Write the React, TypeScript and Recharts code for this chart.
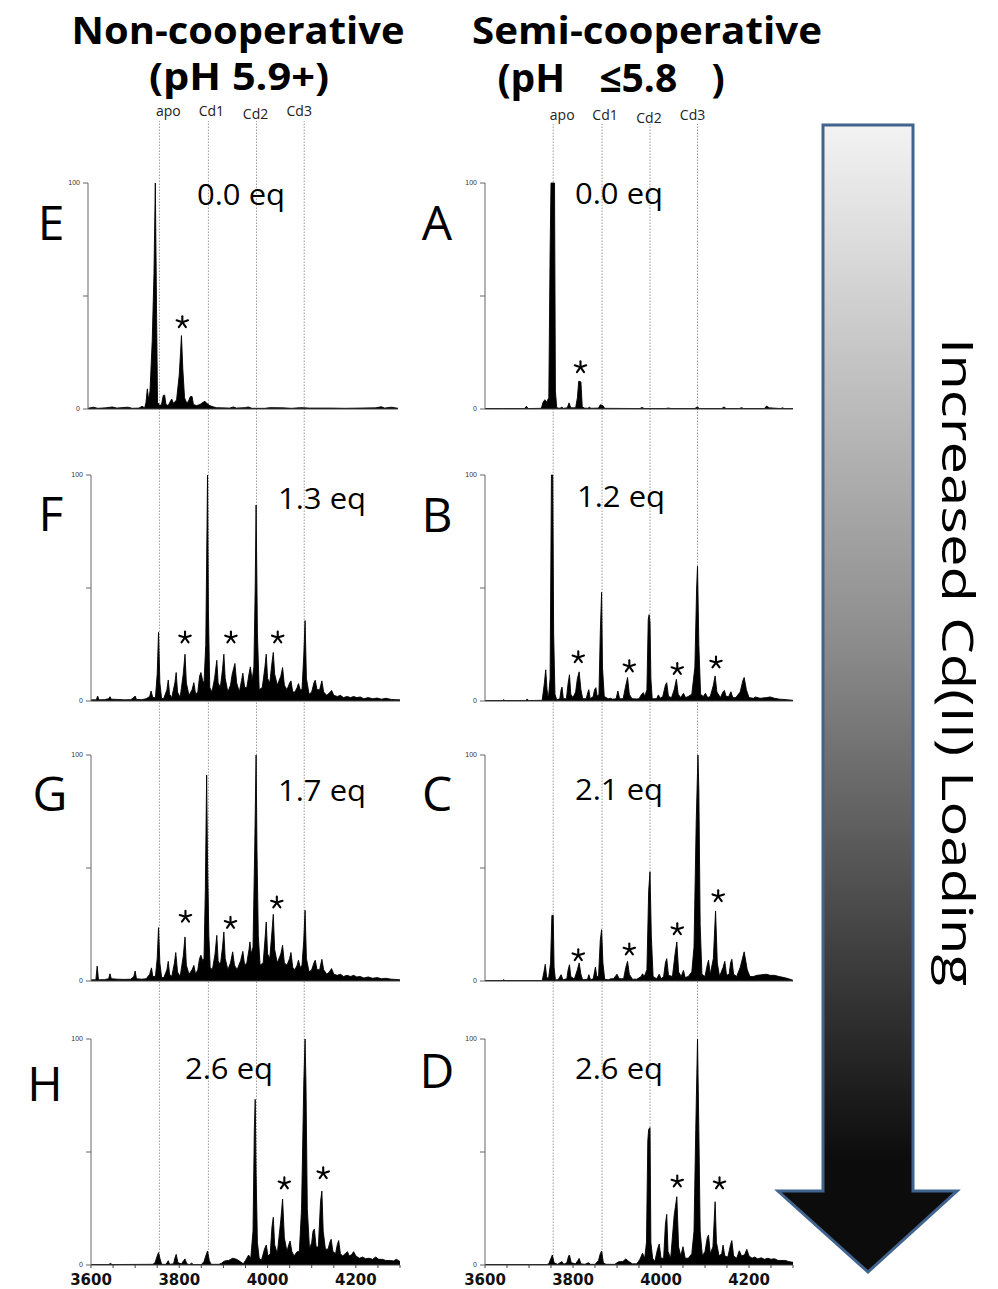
import React from 'react';
import { ComposedChart, Area, Line, XAxis, YAxis, Scatter, ReferenceLine } from 'recharts';

type Pt = [number, number];

// ---------- axes / reference data ----------
const MZ_DOMAIN: [number, number] = [3600, 4300];
const X_TICKS = [3600, 3650, 3700, 3750, 3800, 3850, 3900, 3950, 4000, 4050, 4100, 4150, 4200, 4250, 4300];
const BOTTOM_LABELS = [3600, 3800, 4000, 4200];
const Y_TICKS = [0, 50, 100];

const SPECIES = ['apo', 'Cd1', 'Cd2', 'Cd3'];
const SPECIES_MZ = [3755, 3866, 3975, 4083];

// ---------- spectra (m/z, relative intensity %) ----------
// E : Non-cooperative, 0.0 eq
const spectrumE: Pt[] = [
  [3600, 0.3], [3612, 0.8], [3622, 0.3], [3640, 0.5], [3655, 0.9], [3665, 0.4], [3690, 0.8], [3700, 0.3],
  [3715, 0.4], [3722, 1.2], [3728, 0.5], [3731, 3], [3734, 8.9], [3737, 4], [3740, 8], [3745, 30], [3749, 60],
  [3752, 100], [3755, 40], [3757, 3], [3762, 1.5], [3766, 2], [3770, 6], [3773, 6.2], [3776, 2], [3781, 1.5],
  [3785, 3], [3789, 4.4], [3793, 2.5], [3800, 4], [3806, 15], [3809, 25], [3811, 32.5], [3814, 18], [3818, 5],
  [3822, 3], [3826, 3], [3831, 5.5], [3835, 5.5], [3838, 2], [3845, 1.5], [3853, 2], [3860, 3], [3864, 3.4],
  [3868, 2.5], [3875, 1.5], [3882, 1], [3890, 0.6], [3900, 0.5], [3920, 0.4], [3928, 0.9], [3935, 0.4],
  [3955, 0.6], [3962, 0.9], [3970, 0.3], [4000, 0.3], [4010, 0.6], [4040, 0.5], [4060, 0.3], [4080, 0.6],
  [4100, 0.4], [4150, 0.4], [4180, 0.3], [4250, 0.5], [4262, 1.0], [4270, 0.4], [4285, 0.8], [4300, 0.3],
];
// A : Semi-cooperative, 0.0 eq
const spectrumA: Pt[] = [
  [3600, 0.2], [3640, 0.2], [3690, 0.2], [3694, 1.2], [3698, 0.2], [3728, 0.3], [3732, 3], [3736, 4.1],
  [3740, 3], [3745, 5], [3748, 70], [3750, 100], [3758, 100], [3760, 8], [3763, 0.5], [3771, 0.3], [3774, 0.9],
  [3778, 0.3], [3787, 0.5], [3791, 2.7], [3795, 0.5], [3806, 0.5], [3810, 5], [3813, 12.3], [3818, 12],
  [3821, 1], [3826, 0.4], [3834, 0.3], [3837, 0.8], [3841, 0.3], [3858, 0.4], [3862, 1.9], [3868, 1.5],
  [3872, 0.3], [3952, 0.2], [3957, 0.7], [3962, 0.2], [4010, 0.2], [4016, 0.4], [4025, 0.2], [4077, 0.2],
  [4082, 0.9], [4088, 0.2], [4138, 0.2], [4143, 0.9], [4148, 0.2], [4178, 0.2], [4183, 0.6], [4188, 0.2],
  [4235, 0.2], [4240, 1.3], [4246, 0.5], [4272, 0.2], [4276, 0.5], [4280, 0.2], [4300, 0.2],
];
// F : Non-cooperative, 1.3 eq
const spectrumF: Pt[] = [
  [3600, 0.5], [3612, 0.5], [3615, 2.2], [3618, 0.5], [3630, 0.6], [3640, 1], [3643, 1.9], [3646, 0.8],
  [3660, 0.7], [3675, 0.5], [3690, 0.6], [3697, 1.5], [3700, 2.2], [3703, 0.7], [3715, 0.6], [3725, 1],
  [3733, 2], [3736, 4.4], [3740, 1.5], [3746, 1.5], [3750, 12], [3753, 30.4], [3756, 8], [3760, 1],
  [3765, 1.2], [3772, 5], [3775, 9.3], [3778, 3], [3783, 1.5], [3790, 8], [3793, 12.6], [3796, 4], [3802, 1.5],
  [3809, 12], [3813, 20.7], [3816, 8], [3822, 2.5], [3829, 5], [3833, 8.1], [3837, 3], [3842, 4], [3846, 11],
  [3849, 12.6], [3853, 9], [3856, 8], [3860, 25], [3864, 100], [3866, 40], [3869, 6], [3874, 4], [3880, 10],
  [3885, 18], [3888, 8], [3893, 6], [3898, 14], [3901, 20.7], [3904, 10], [3910, 4], [3916, 7], [3920, 12],
  [3926, 16.6], [3930, 8], [3936, 4], [3941, 9], [3944, 12.3], [3948, 6], [3953, 6], [3958, 12], [3961, 15.1],
  [3965, 9], [3969, 15], [3972, 50], [3974, 86.7], [3977, 30], [3981, 5], [3988, 6], [3994, 15], [3997, 20.7],
  [4000, 10], [4005, 8], [4010, 17], [4013, 21.5], [4016, 12], [4022, 7], [4030, 11], [4034, 14.8], [4038, 7],
  [4044, 5], [4050, 8], [4053, 8.9], [4057, 4], [4062, 4], [4067, 6], [4070, 7.7], [4074, 5], [4078, 5],
  [4082, 20], [4085, 35.6], [4088, 10], [4094, 3], [4100, 4], [4105, 8], [4108, 9.2], [4112, 5], [4118, 5],
  [4123, 8.9], [4127, 4], [4134, 2.5], [4140, 3.5], [4145, 4.7], [4150, 2.5], [4158, 2], [4165, 2.5],
  [4172, 1.5], [4180, 2], [4188, 1.5], [4195, 2], [4202, 1.5], [4210, 1.8], [4218, 1], [4228, 1.5],
  [4238, 1], [4248, 1.3], [4258, 0.8], [4268, 1.2], [4280, 0.7], [4290, 0.6], [4300, 0.5],
];
// B : Semi-cooperative, 1.2 eq
const spectrumB: Pt[] = [
  [3600, 0.2], [3640, 0.2], [3642, 0.6], [3645, 0.2], [3693, 0.2], [3696, 0.9], [3699, 0.2], [3730, 0.3],
  [3735, 8], [3738, 13.8], [3741, 5], [3744, 1], [3748, 10], [3751, 100], [3754, 100], [3756, 30], [3759, 3],
  [3763, 0.5], [3770, 1], [3773, 5], [3775, 6.2], [3778, 1], [3785, 1], [3789, 8], [3792, 11.6], [3795, 3],
  [3800, 1.5], [3806, 4], [3810, 10], [3814, 12.9], [3818, 5], [3822, 1], [3830, 1], [3834, 4], [3836, 5],
  [3839, 1], [3846, 2], [3849, 5], [3852, 5.9], [3855, 2], [3859, 3], [3862, 30], [3865, 48.1], [3867, 15],
  [3871, 2], [3880, 1], [3886, 1.2], [3890, 0.8], [3898, 1], [3902, 4.4], [3906, 1], [3914, 1], [3919, 6],
  [3924, 10.4], [3928, 3], [3934, 1], [3945, 0.9], [3950, 1], [3956, 3], [3960, 3.7], [3963, 2], [3968, 5],
  [3971, 36], [3973, 38.2], [3975, 34.8], [3977, 10], [3980, 1], [3990, 1], [3994, 2.7], [3998, 1.2],
  [4004, 2], [4010, 7], [4013, 8.1], [4017, 2], [4024, 1.5], [4030, 5], [4035, 9.6], [4039, 3], [4045, 1.5],
  [4051, 3.4], [4056, 1.5], [4062, 2], [4070, 3], [4077, 15], [4081, 50], [4083, 59.6], [4086, 25], [4090, 3],
  [4096, 2], [4101, 3.4], [4106, 1.5], [4112, 2], [4119, 7], [4123, 11.1], [4127, 4], [4135, 1.5], [4141, 4],
  [4144, 4.7], [4148, 2], [4154, 2], [4159, 4.1], [4163, 1.5], [4170, 1.5], [4180, 4], [4186, 9], [4189, 10.4],
  [4194, 5], [4200, 1.5], [4210, 1.2], [4214, 1.8], [4225, 1.2], [4240, 1.5], [4248, 1.8], [4258, 1.2],
  [4270, 0.8], [4285, 0.6], [4300, 0.3],
];
// G : Non-cooperative, 1.7 eq
const spectrumG: Pt[] = [
  [3600, 0.5], [3611, 0.5], [3614, 6.6], [3617, 0.5], [3625, 0.6], [3630, 0.6], [3640, 1], [3643, 3.2],
  [3646, 1], [3660, 0.8], [3675, 0.7], [3690, 0.8], [3697, 2], [3700, 4.4], [3703, 1], [3715, 0.8], [3725, 1],
  [3733, 3], [3737, 5.8], [3740, 2], [3746, 2], [3750, 10], [3753, 23.6], [3756, 8], [3760, 1.5], [3765, 1.5],
  [3772, 5], [3775, 8.7], [3778, 3], [3783, 2], [3789, 8], [3792, 12.6], [3796, 4], [3802, 2], [3809, 11],
  [3813, 19.5], [3816, 7], [3822, 3], [3829, 5], [3833, 6.9], [3837, 3], [3842, 5], [3846, 10], [3849, 11.4],
  [3853, 9], [3856, 10], [3859, 40], [3862, 91.1], [3864, 52.7], [3867, 20], [3870, 6], [3875, 5], [3881, 12],
  [3885, 20.2], [3888, 9], [3893, 7], [3898, 15], [3901, 21.7], [3904, 10], [3910, 5], [3916, 8], [3921, 12.9],
  [3925, 7], [3931, 5], [3939, 9], [3944, 13.1], [3948, 7], [3953, 8], [3958, 14], [3960, 17.3], [3963, 12],
  [3967, 15], [3971, 60], [3974, 100], [3976, 57.9], [3979, 20], [3983, 7], [3990, 8], [3994, 18], [3997, 26.1],
  [4000, 12], [4005, 10], [4010, 22], [4013, 29.5], [4016, 14], [4022, 8], [4030, 12], [4034, 15.8], [4038, 8],
  [4044, 7], [4050, 10], [4053, 12.6], [4057, 6], [4062, 5], [4067, 7], [4070, 9.2], [4074, 6], [4078, 7],
  [4082, 18], [4085, 31.3], [4088, 10], [4094, 4], [4100, 5], [4105, 8], [4108, 9.2], [4112, 5], [4118, 5],
  [4123, 9.6], [4127, 5], [4134, 3], [4140, 4], [4145, 5.5], [4150, 3], [4158, 2.5], [4165, 3], [4172, 2],
  [4180, 2.5], [4188, 2], [4195, 2.5], [4202, 1.8], [4210, 2], [4218, 1.3], [4228, 1.8], [4238, 1.2],
  [4248, 1.5], [4258, 1], [4268, 1.2], [4280, 0.8], [4290, 0.7], [4300, 0.5],
];
// C : Semi-cooperative, 2.1 eq
const spectrumC: Pt[] = [
  [3600, 0.2], [3640, 0.2], [3642, 0.6], [3645, 0.2], [3730, 0.2], [3734, 4], [3737, 7.4], [3740, 2],
  [3744, 0.5], [3749, 8], [3752, 29], [3755, 29.1], [3757, 6], [3760, 0.5], [3766, 0.5], [3773, 2.8],
  [3777, 0.5], [3786, 1], [3789, 5], [3792, 7.2], [3795, 2], [3803, 0.8], [3810, 5], [3814, 8], [3818, 3],
  [3822, 0.5], [3833, 0.8], [3836, 2.8], [3840, 0.5], [3846, 1], [3851, 6.2], [3854, 2], [3858, 2], [3862, 18],
  [3865, 22.7], [3868, 8], [3872, 0.8], [3880, 0.5], [3886, 1], [3892, 1], [3900, 3], [3905, 1], [3915, 1],
  [3920, 6], [3924, 8.7], [3928, 3], [3935, 0.8], [3945, 0.8], [3955, 2], [3958, 3.2], [3962, 2], [3968, 5],
  [3972, 40], [3975, 48.3], [3978, 20], [3982, 2], [3990, 1], [3996, 3], [4000, 1], [4006, 2], [4010, 8],
  [4013, 9.9], [4017, 2.5], [4026, 2], [4032, 12], [4036, 17.3], [4040, 4], [4046, 2], [4051, 4.7], [4055, 1.5],
  [4062, 2], [4070, 4], [4075, 15], [4080, 70], [4084, 100], [4086, 84.5], [4089, 25], [4093, 3], [4100, 2],
  [4105, 7], [4108, 9.2], [4112, 3], [4119, 10], [4124, 31], [4128, 8], [4133, 2], [4141, 6], [4145, 8.7],
  [4149, 2.5], [4155, 3], [4158, 8], [4161, 9.6], [4165, 3], [4172, 2], [4180, 6], [4189, 12.9], [4196, 5],
  [4202, 2], [4210, 2], [4218, 2.5], [4230, 2.8], [4240, 3], [4248, 2.5], [4258, 2.5], [4268, 2], [4280, 1.5],
  [4290, 1], [4300, 0.3],
];
// H : Non-cooperative, 2.6 eq
const spectrumH: Pt[] = [
  [3600, 0.2], [3640, 0.2], [3644, 0.7], [3648, 0.2], [3740, 0.3], [3745, 1], [3750, 4], [3753, 5.5],
  [3756, 3], [3760, 0.3], [3770, 0.3], [3775, 1.9], [3778, 0.3], [3787, 0.5], [3790, 3], [3793, 4.7],
  [3797, 1], [3805, 0.5], [3810, 2], [3813, 2.7], [3817, 0.5], [3823, 0.2], [3828, 0.8], [3832, 0.2],
  [3850, 0.2], [3856, 1.5], [3860, 4], [3864, 6.2], [3868, 2], [3872, 0.3], [3890, 0.3], [3896, 0.8],
  [3900, 1.5], [3905, 1.9], [3912, 2], [3921, 3], [3930, 2.5], [3938, 1.5], [3945, 0.5], [3950, 2],
  [3957, 4.4], [3962, 3], [3967, 15], [3970, 60], [3972, 73.3], [3974, 40], [3977, 10], [3981, 3], [3986, 2],
  [3993, 7], [3997, 8.8], [4001, 4], [4006, 5], [4010, 17], [4013, 21.1], [4016, 9], [4022, 5], [4030, 20],
  [4034, 29.2], [4038, 12], [4044, 6], [4048, 9], [4051, 10.6], [4055, 6], [4060, 4], [4067, 5.9], [4072, 6],
  [4077, 25], [4082, 80], [4085, 100], [4087, 80], [4090, 25], [4095, 7], [4100, 10], [4103, 15], [4106, 15.9],
  [4110, 8], [4115, 8], [4120, 28], [4123, 32.7], [4126, 15], [4131, 7], [4137, 7], [4141, 10], [4144, 11.4],
  [4148, 6], [4154, 5], [4158, 9], [4161, 10.8], [4165, 5], [4170, 4], [4176, 5], [4181, 5.9], [4185, 4],
  [4190, 4.5], [4195, 5.9], [4200, 4], [4208, 3], [4215, 3.5], [4222, 2.8], [4230, 3], [4238, 2.5],
  [4245, 3.5], [4252, 2.5], [4260, 2.5], [4268, 2], [4278, 2], [4285, 1.8], [4292, 2.5], [4300, 1.5],
];
// D : Semi-cooperative, 2.6 eq
const spectrumD: Pt[] = [
  [3600, 0.2], [3740, 0.2], [3745, 0.5], [3750, 3], [3753, 4.4], [3757, 1], [3765, 0.3], [3775, 1.5],
  [3779, 0.3], [3786, 1], [3790, 4], [3792, 4.4], [3796, 1], [3806, 0.5], [3811, 2], [3814, 2.9], [3818, 0.5],
  [3827, 0.3], [3835, 1], [3840, 0.3], [3850, 0.3], [3858, 2], [3862, 5], [3865, 6.2], [3869, 1], [3875, 0.3],
  [3895, 0.3], [3900, 1], [3905, 1.5], [3913, 1.5], [3920, 2.7], [3927, 1.5], [3935, 0.5], [3945, 0.5],
  [3952, 2.5], [3958, 5.2], [3963, 3], [3967, 10], [3970, 55], [3972, 60], [3975, 60.8], [3977, 10], [3981, 3],
  [3986, 1.5], [3992, 7], [3996, 9.3], [4000, 3], [4006, 3], [4010, 18], [4013, 22.4], [4016, 6], [4022, 3],
  [4030, 22], [4036, 30.2], [4040, 8], [4045, 4], [4050, 8.1], [4055, 3], [4062, 3], [4070, 5], [4075, 15],
  [4079, 60], [4083, 100], [4086, 60], [4089, 15], [4094, 4], [4100, 6], [4105, 12], [4108, 13.3], [4112, 5],
  [4118, 8], [4123, 28], [4126, 10], [4132, 4], [4138, 5], [4141, 8.8], [4145, 4], [4152, 3.5], [4158, 9],
  [4161, 10.8], [4165, 4], [4172, 3], [4178, 6.3], [4183, 4], [4190, 4.5], [4195, 6.9], [4200, 4], [4207, 3],
  [4213, 3.5], [4220, 2.7], [4228, 3.2], [4235, 2.5], [4243, 3], [4250, 2.5], [4258, 2.8], [4266, 2],
  [4275, 2], [4283, 2], [4290, 1.5], [4300, 1.2],
];

// ---------- asterisk markers (m/z, height %) ----------
const starsE: Pt[] = [[3813, 38.4]];
const starsA: Pt[] = [[3817, 18.5]];
const starsF: Pt[] = [[3813, 28.1], [3917, 28.1], [4023, 28.1]];
const starsB: Pt[] = [[3812, 19.3], [3928, 15.3], [4037, 14.1], [4125, 17]];
const starsG: Pt[] = [[3814, 28.4], [3916, 25.7], [4021, 34.7]];
const starsC: Pt[] = [[3812, 11.4], [3928, 13.9], [4037, 22.9], [4130, 37.5]];
const starsH: Pt[] = [[4038, 36.1], [4126, 40.6]];
const starsD: Pt[] = [[4037, 36.9], [4133, 36.1]];

// ---------- text ----------
const TITLES = ['Non-cooperative', '(pH 5.9+)', 'Semi-cooperative', '(pH \u22645.8 )'];
const PANEL_LETTERS = ['E', 'F', 'G', 'H', 'A', 'B', 'C', 'D'];
const EQ_LABELS = ['0.0 eq', '1.3 eq', '1.7 eq', '2.6 eq', '0.0 eq', '1.2 eq', '2.1 eq', '2.6 eq'];
const ARROW_TEXT = 'Increased Cd(II) Loading';

// ---------- layout (pixels) ----------
const W = 998;
const H = 1289;
const ROW_TOPS = [183, 475, 755, 1039];
const PLOT_H = 226;
const YW = 30;
const MT = 10;
const MR = 6;
const XH = 24;
const SANS = "'Open Sans', 'Noto Sans', sans-serif";

const Star = (props: any) => {
  const { cx, cy } = props;
  if (cx == null || cy == null) return <g />;
  const r = 6;
  const angles = [-90, -18, 54, 126, 198];
  return (
    <g>
      {angles.map((a) => (
        <line
          key={a}
          x1={cx}
          y1={cy}
          x2={cx + r * Math.cos((a * Math.PI) / 180)}
          y2={cy + r * Math.sin((a * Math.PI) / 180)}
          stroke="#000"
          strokeWidth={2.1}
          strokeLinecap="round"
        />
      ))}
    </g>
  );
};

const BottomTick = (props: any) => {
  const { x, y, payload } = props;
  if (!BOTTOM_LABELS.includes(payload.value)) return <g />;
  return (
    <text x={x} y={y + 15} textAnchor="middle" fontFamily="'DejaVu Sans', sans-serif" fontWeight="bold" fontSize={15} fill="#111">
      {payload.value}
    </text>
  );
};

function Panel(props: { data: Pt[]; stars: Pt[]; plotLeft: number; plotWidth: number; plotTop: number; bottom: boolean }) {
  const { data, stars, plotLeft, plotWidth, plotTop, bottom } = props;
  const rows = data.map(([mz, i]) => ({ mz, i }));
  const starRows = stars.map(([mz, s]) => ({ mz, s }));
  return (
    <div style={{ position: 'absolute', left: plotLeft - YW, top: plotTop - MT }}>
      <ComposedChart
        width={YW + plotWidth + MR}
        height={MT + PLOT_H + XH}
        margin={{ top: MT, right: MR, bottom: 0, left: 0 }}
        data={rows}
        style={{ overflow: 'visible' }}
      >
        <XAxis
          dataKey="mz"
          type="number"
          domain={MZ_DOMAIN}
          ticks={X_TICKS}
          interval={0}
          allowDataOverflow
          height={XH}
          tickSize={3}
          tickMargin={2}
          stroke="#444"
          tick={bottom ? BottomTick : false}
        />
        <YAxis
          type="number"
          domain={[0, 100]}
          ticks={Y_TICKS}
          interval={0}
          width={YW}
          tickSize={5}
          tickMargin={3}
          stroke="#666"
          tick={{ fontSize: 7, fill: '#333', fontFamily: 'Liberation Sans, sans-serif' }}
          tickFormatter={(v: number) => (v === 50 ? '' : String(v))}
        />
        <Area
          type="linear"
          dataKey="i"
          stroke="#000"
          strokeWidth={0.9}
          fill="#000"
          fillOpacity={1}
          dot={false}
          activeDot={false}
          isAnimationActive={false}
        />
        <Scatter data={starRows} dataKey="s" shape={Star} isAnimationActive={false} />
      </ComposedChart>
    </div>
  );
}

const SPECIES_DX = [9, 3, -1, -5];
const SPECIES_DY = [0, 0, 3, 0];

function GuideLines(props: { plotLeft: number; plotWidth: number; plotTop: number; labelOffset: number }) {
  const { plotLeft, plotWidth, plotTop, labelOffset } = props;
  const plotBottom = 1265;
  const top = 30;
  const rows = [{ x: MZ_DOMAIN[0], y: 0 }, { x: MZ_DOMAIN[1], y: 1 }];
  return (
    <div style={{ position: 'absolute', left: plotLeft, top: plotTop - top }}>
      <ComposedChart
        width={plotWidth}
        height={top + plotBottom - plotTop}
        margin={{ top, right: 0, bottom: 0, left: 0 }}
        data={rows}
      >
        <XAxis dataKey="x" type="number" domain={MZ_DOMAIN} hide />
        <YAxis type="number" domain={[0, 1]} hide />
        <Line dataKey="y" stroke="none" strokeOpacity={0} dot={false} activeDot={false} isAnimationActive={false} />
        {SPECIES_MZ.map((mz, k) => (
          <ReferenceLine
            key={SPECIES[k]}
            x={mz}
            stroke="#9a9a9a"
            strokeWidth={1}
            strokeDasharray="1.5 1.5"
            label={(lp: any) => {
              const vb = lp.viewBox || {};
              return (
                <text
                  x={(vb.x ?? 0) + SPECIES_DX[k]}
                  y={(vb.y ?? 0) - labelOffset + SPECIES_DY[k]}
                  textAnchor="middle"
                  fontFamily={SANS}
                  fontSize={14}
                  fill="#222"
                >
                  {SPECIES[k]}
                </text>
              );
            }}
          />
        ))}
      </ComposedChart>
    </div>
  );
}

export default function App() {
  const leftPlotLefts = [88, 91, 91, 91];
  const leftPlotWidths = [310, 309, 309, 309];
  const leftData = [spectrumE, spectrumF, spectrumG, spectrumH];
  const leftStars = [starsE, starsF, starsG, starsH];
  const rightData = [spectrumA, spectrumB, spectrumC, spectrumD];
  const rightStars = [starsA, starsB, starsC, starsD];

  const letterPos: Array<[number, number]> = [
    [51, 240], [51, 531], [50, 811], [45, 1101],
    [437, 240], [437, 532], [437, 811], [437, 1088],
  ];
  const eqPos: Array<[number, number]> = [
    [197, 205], [278, 509], [278, 801], [185, 1079],
    [575, 204], [577, 507], [575, 800], [575, 1079],
  ];

  return (
    <div style={{ position: 'absolute', left: 0, top: 0, width: W, height: H, overflow: 'hidden', background: '#fff' }}>
      <GuideLines plotLeft={91} plotWidth={309} plotTop={121} labelOffset={5} />
      <GuideLines plotLeft={485} plotWidth={308} plotTop={124} labelOffset={4} />

      {ROW_TOPS.map((t, k) => (
        <Panel
          key={'L' + k}
          data={leftData[k]}
          stars={leftStars[k]}
          plotLeft={leftPlotLefts[k]}
          plotWidth={leftPlotWidths[k]}
          plotTop={t}
          bottom={k === 3}
        />
      ))}
      {ROW_TOPS.map((t, k) => (
        <Panel
          key={'R' + k}
          data={rightData[k]}
          stars={rightStars[k]}
          plotLeft={485}
          plotWidth={308}
          plotTop={t}
          bottom={k === 3}
        />
      ))}

      <svg width={W} height={H} style={{ position: 'absolute', left: 0, top: 0, pointerEvents: 'none' }}>
        <defs>
          <linearGradient id="arrowGrad" gradientUnits="userSpaceOnUse" x1="0" y1="125" x2="0" y2="1160">
            <stop offset="0" stopColor="#f3f3f3" />
            <stop offset="0.5" stopColor="#8c8c8c" />
            <stop offset="1" stopColor="#0c0c0c" />
          </linearGradient>
        </defs>

        <text x={238} y={44} textAnchor="middle" fontFamily={SANS} fontWeight={700} fontSize={37} textLength={333} lengthAdjust="spacingAndGlyphs" fill="#000">
          {TITLES[0]}
        </text>
        <text x={239} y={90} textAnchor="middle" fontFamily={SANS} fontWeight={700} fontSize={37} textLength={180} lengthAdjust="spacingAndGlyphs" fill="#000">
          {TITLES[1]}
        </text>
        <text x={647} y={44} textAnchor="middle" fontFamily={SANS} fontWeight={700} fontSize={37} textLength={350} lengthAdjust="spacingAndGlyphs" fill="#000">
          {TITLES[2]}
        </text>
        <text x={611} y={92} textAnchor="middle" fontFamily={SANS} fontWeight={700} fontSize={39} wordSpacing={24} fill="#000">
          {TITLES[3]}
        </text>

        {PANEL_LETTERS.map((L, k) => (
          <text key={L} x={letterPos[k][0]} y={letterPos[k][1]} textAnchor="middle" fontFamily={SANS} fontSize={48} fill="#000">
            {L}
          </text>
        ))}

        {EQ_LABELS.map((s, k) => (
          <text key={'eq' + k} x={eqPos[k][0]} y={eqPos[k][1]} fontFamily={SANS} fontSize={29} textLength={88} lengthAdjust="spacingAndGlyphs" fill="#000">
            {s}
          </text>
        ))}

        <path
          d="M823,125 L913,125 L913,1191 L957,1191 L868,1272 L778,1191 L823,1191 Z"
          fill="url(#arrowGrad)"
          stroke="#41648f"
          strokeWidth={3}
          strokeLinejoin="miter"
        />

        <text
          x={942}
          y={662}
          transform="rotate(90 942 662)"
          textAnchor="middle"
          fontFamily={SANS}
          fontSize={44}
          textLength={648}
          lengthAdjust="spacingAndGlyphs"
          fill="#000"
        >
          {ARROW_TEXT}
        </text>
      </svg>
    </div>
  );
}
